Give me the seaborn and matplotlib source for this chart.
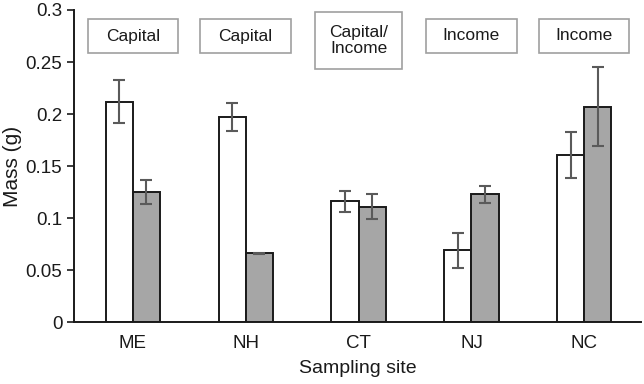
import matplotlib
matplotlib.use("Agg")
import matplotlib.pyplot as plt
import seaborn as sns
import pandas as pd
import numpy as np
from matplotlib.patches import Rectangle

sites = ["ME", "NH", "CT", "NJ", "NC"]
white_vals = [0.212, 0.197, 0.116, 0.069, 0.161]
white_err = [0.021, 0.0135, 0.010, 0.017, 0.022]
grey_vals = [0.125, 0.066, 0.111, 0.123, 0.207]
grey_err = [0.0115, 0.0006, 0.012, 0.008, 0.038]
labels = ["Capital", "Capital", "Capital/\nIncome", "Income", "Income"]

sns.set_style("white")
plt.rcParams["font.family"] = ["Liberation Sans", "DejaVu Sans"]

df = pd.DataFrame({
    "site": sites * 2,
    "group": ["A"] * 5 + ["B"] * 5,
    "mass": white_vals + grey_vals,
})

fig = plt.figure(figsize=(6.44, 3.84), dpi=100)
ax = fig.add_axes([0.115, 0.161, 0.88, 0.813])
sns.barplot(data=df, x="site", y="mass", hue="group", order=sites,
            hue_order=["A", "B"], palette=["white", "#a6a6a6"],
            width=0.48, gap=0, errorbar=None, edgecolor="#1a1a1a",
            linewidth=1.4, legend=False, ax=ax)

pw = [p for p in ax.patches][:5]
pg = [p for p in ax.patches][5:10]
for plist, v, e in ((pw, white_vals, white_err), (pg, grey_vals, grey_err)):
    xs = [p.get_x() + p.get_width() / 2 for p in plist]
    ax.errorbar(xs, v, yerr=e, fmt="none", ecolor="#5a5a5a",
                elinewidth=1.5, capsize=4, capthick=1.5)

for i, lab in enumerate(labels):
    if "\n" in lab:
        y0, h, w = 0.243, 0.055, 0.77
    else:
        y0, h, w = 0.259, 0.032, 0.80
    ax.add_patch(Rectangle((i - w / 2, y0), w, h, facecolor="white",
                           edgecolor="#a0a0a0", linewidth=1.2, clip_on=False, zorder=3))
    ax.text(i, y0 + h / 2, lab, ha="center", va="center", fontsize=12.5,
            color="#1a1a1a", zorder=4, linespacing=1.05)

ax.set_ylim(0, 0.3)
ax.set_xlim(-0.52, 4.5)
ax.set_yticks([0, 0.05, 0.1, 0.15, 0.2, 0.25, 0.3])
ax.set_yticklabels(["0", "0.05", "0.1", "0.15", "0.2", "0.25", "0.3"])
ax.set_xlabel("Sampling site", fontsize=14, color="#1a1a1a", labelpad=6)
ax.set_ylabel("Mass (g)", fontsize=15, color="#1a1a1a")
ax.yaxis.set_label_coords(-0.092, 0.5)
ax.tick_params(axis="y", direction="out", length=5, width=1.2, labelsize=13.5,
               colors="#1a1a1a", left=True)
ax.tick_params(axis="x", length=0, labelsize=13.5, colors="#1a1a1a", pad=9)
for s in ["top", "right"]:
    ax.spines[s].set_visible(False)
for s in ["left", "bottom"]:
    ax.spines[s].set_color("#1a1a1a")
    ax.spines[s].set_linewidth(1.4)

fig.savefig("out.png", dpi=100)
